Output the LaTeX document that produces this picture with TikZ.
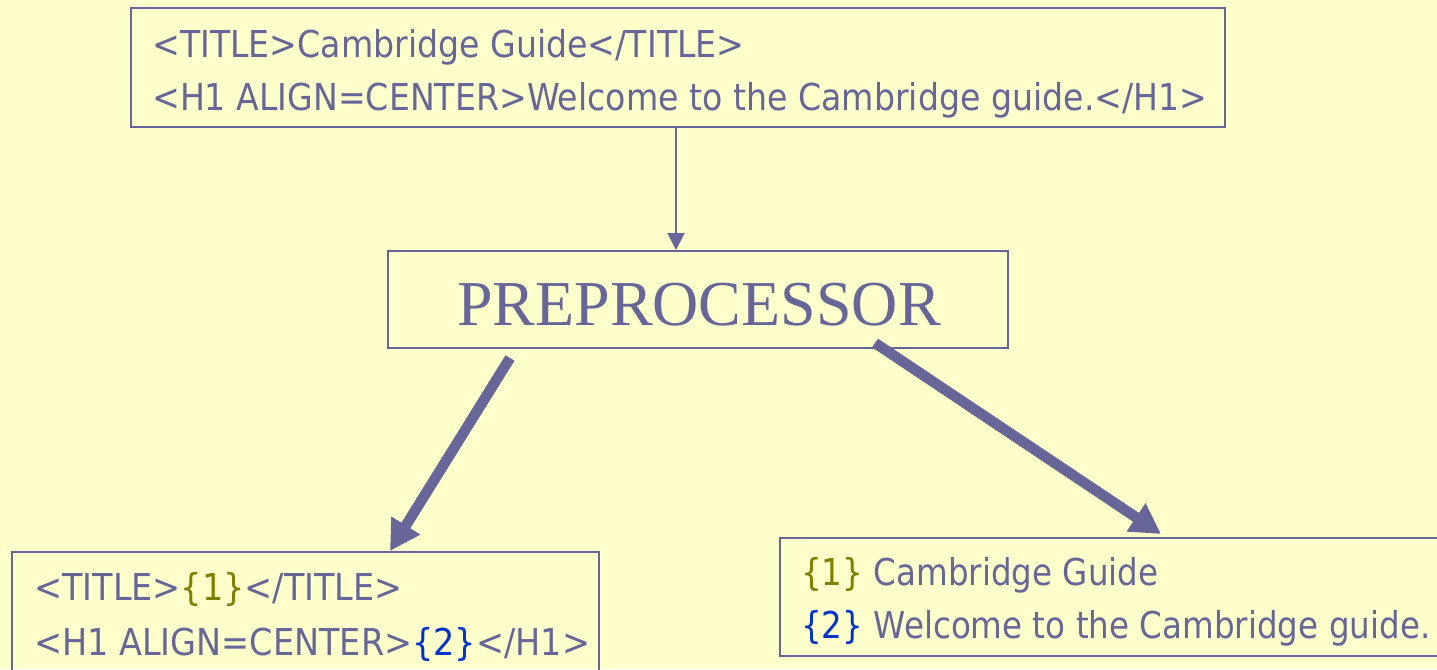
\documentclass[tikz,border=0pt]{standalone}
\usepackage{fontspec}
\usetikzlibrary{arrows.meta}
\newfontfamily\tah[FakeStretch=0.897]{DejaVu Sans}
\newfontfamily\tahl[FakeStretch=0.905]{DejaVu Sans}
\newfontfamily\tahr[FakeStretch=0.88]{DejaVu Sans}
\newfontfamily\tms{Liberation Serif}
\definecolor{bg}{HTML}{FFFFCC}
\definecolor{ink}{HTML}{666699}
\definecolor{olive}{HTML}{808000}
\definecolor{blu}{HTML}{0033CC}
\tikzset{
  box/.style={draw=ink, line width=1.5pt, inner sep=0pt, outer sep=0pt},
  txt/.style={anchor=base west, inner sep=0pt, text=ink, font=\tah\fontsize{37}{44}\selectfont},
  thin arrow/.style={draw=ink, line width=2pt, -{Triangle[width=17pt,length=17pt]}},
  thick arrow/.style={draw=ink, line width=10.5pt, -{Triangle[width=32pt,length=30pt]}},
}
\begin{document}
\begin{tikzpicture}[x=1pt,y=-1pt]
\fill[bg] (0,0) rectangle (1437,669);
\useasboundingbox (0,0) rectangle (1437,669);
% boxes
\node[box, minimum width=1094pt, minimum height=119pt] (top) at (678,67.5) {};
\node[box, minimum width=620pt, minimum height=97pt] (pre) at (698,299.5) {};
\node[box, minimum width=587pt, minimum height=128pt] (left) at (305.5,616) {};
\node[box, minimum width=670pt, minimum height=118pt] (right) at (1115,597) {};
% texts
\node[txt] (t1) at (152,57) {<TITLE>Cambridge Guide</TITLE>};
\node[txt] (t2) at (152,110) {<H1 ALIGN=CENTER>Welcome to the Cambridge guide.</H1>};
\node[anchor=base, inner sep=0pt, text=ink, font=\tms\fontsize{64}{70}\selectfont] (pt) at (699,325) {PREPROCESSOR};
\node[txt, font=\tahl\fontsize{37}{44}\selectfont] (l1) at (34,600) {<TITLE>\textcolor{olive}{\{1\}}</TITLE>};
\node[txt, font=\tahl\fontsize{37}{44}\selectfont] (l2) at (34,655) {<H1 ALIGN=CENTER>\textcolor{blu}{\{2\}}</H1>};
\node[txt, font=\tahr\fontsize{37}{44}\selectfont] (r1) at (801,585) {\textcolor{olive}{\{1\}} Cambridge Guide};
\node[txt, font=\tahr\fontsize{37}{44}\selectfont] (r2) at (801,638) {\textcolor{blu}{\{2\}} Welcome to the Cambridge guide.};
% connectors
\coordinate (a1s) at (676,127);
\coordinate (a1e) at (676,250);
\coordinate (a2s) at (510,358);
\coordinate (a2e) at (390,551);
\coordinate (a3s) at (875,343);
\coordinate (a3e) at (1161,534);
\draw[thin arrow] (a1s) -- (a1e);
\draw[thick arrow] (a2s) -- (a2e);
\draw[thick arrow] (a3s) -- (a3e);
\end{tikzpicture}
\end{document}
